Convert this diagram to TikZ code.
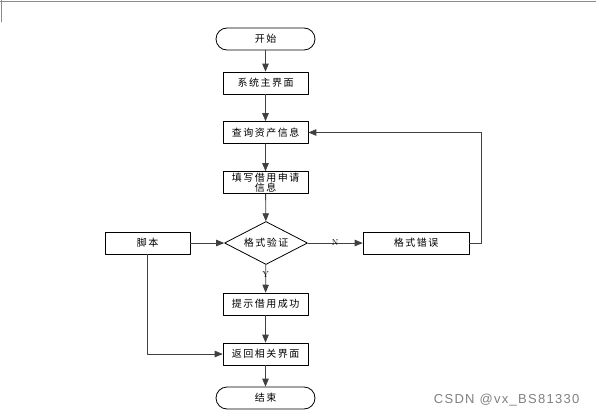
\documentclass[tikz,border=0pt]{standalone}
\usepackage{fontspec}
\newfontfamily\cjk[LetterSpace=15]{Noto Sans CJK SC}
\newfontfamily\wmfont[LetterSpace=10]{Liberation Sans}
\usetikzlibrary{arrows,shapes.geometric}

\begin{document}
\begin{tikzpicture}[line cap=round,line join=round,>=triangle 45,x=1pt,y=-1pt,
  box/.style={draw,line width=0.8pt,minimum width=85pt,minimum height=22pt,inner sep=1pt,font=\cjk\fontsize{10}{10.5}\selectfont},
  term/.style={box,minimum width=99pt,rounded corners=11pt},
  check/.style={draw,diamond,line width=0.8pt,minimum width=83pt,minimum height=43pt,inner sep=0pt,aspect=1.9,font=\cjk\fontsize{10}{10.5}\selectfont},
  link/.style={line width=0.8pt,draw=black!75},
  tag/.style={font=\fontsize{8.5}{9}\selectfont,inner sep=1pt}]
\useasboundingbox (0,0) rectangle (596,417);
\draw[black!45,line width=0.6pt] (0,1.5)-- (596,1.5);
\draw[black!45,line width=0.6pt] (1,0)-- (1,22);

\node[term] (start) at (265.5,39) {开始};
\node[box] (mainui) at (265.5,83) {系统主界面};
\node[box] (query) at (265.5,132.5) {查询资产信息};
\node[box,align=center] (fill) at (265.5,182.5) {填写借用申请\\信息};
\node[check] (verify) at (266,243) {格式验证};
\node[box] (script) at (147.5,243) {脚本};
\node[box,minimum width=106pt] (err) at (416,243) {格式错误};
\node[box] (ok) at (265.5,304) {提示借用成功};
\node[box] (back) at (265.5,354) {返回相关界面};
\node[term] (stop) at (265.5,398) {结束};
\coordinate (turn) at (481,243);

\draw[link,->] (start)-- (mainui);
\draw[link,->] (mainui)-- (query);
\draw[link,->] (query)-- (fill);
\draw[link,->] (fill)-- (verify);
\draw[link,->] (script)-- (verify);
\draw[link,->] (verify)-- node[tag] {N} (err);
\draw[link,->] (err.east)-- (turn) |- (query.east);
\draw[link,->] (verify)-- node[tag,pos=0.35] {Y} (ok);
\draw[link,->] (ok)-- (back);
\draw[link,->] (script.south) |- (back.west);
\draw[link,->] (back)-- (stop);

\node[font=\wmfont\fontsize{13}{14}\selectfont,text=black!50,anchor=east] (mark) at (583,400) {CSDN @vx\_BS81330};
\end{tikzpicture}
\end{document}
